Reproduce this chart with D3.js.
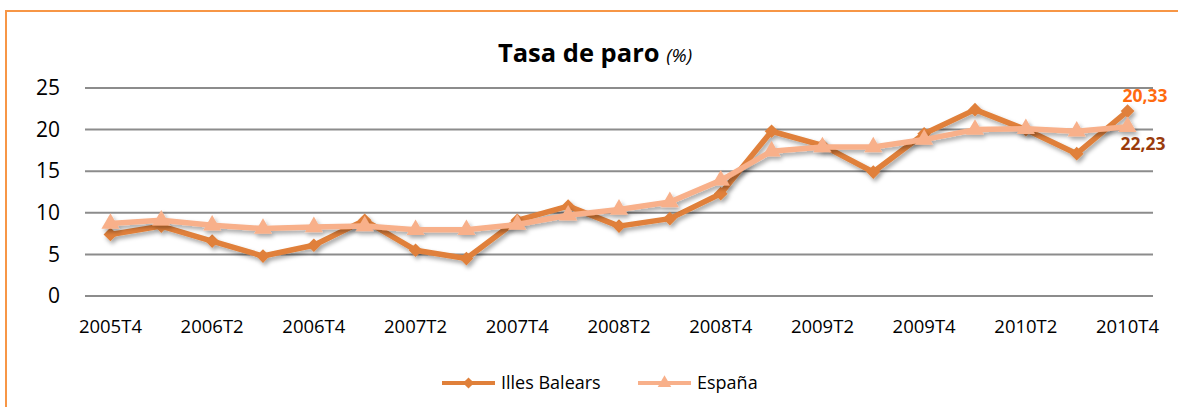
<!DOCTYPE html>
<html>
<head>
<meta charset="utf-8">
<script src="https://cdn.jsdelivr.net/npm/d3@7"></script>
<style>
  body { margin: 0; background: #fff; }
  svg { font-family: "Open Sans", Lato, sans-serif; }
</style>
</head>
<body>
<div id="chart"></div>
<script>
// quarters
const quarters = [
  "2005T4", "2006T1", "2006T2", "2006T3", "2006T4", "2007T1", "2007T2",
  "2007T3", "2007T4", "2008T1", "2008T2", "2008T3", "2008T4", "2009T1",
  "2009T2", "2009T3", "2009T4", "2010T1", "2010T2", "2010T3", "2010T4"
];
// axis labels shown every other quarter
const tickLabels = quarters.filter((d, i) => i % 2 === 0);
const yTicks = [0, 5, 10, 15, 20, 25];

const balears = [7.4, 8.4, 6.6, 4.8, 6.1, 9.1, 5.5, 4.5, 9.1, 10.8, 8.4, 9.3,
  12.3, 19.8, 18.1, 14.9, 19.5, 22.4, 20.0, 17.1, 22.23];
const espana = [8.7, 9.1, 8.5, 8.1, 8.3, 8.4, 7.95, 7.95, 8.6, 9.7, 10.4, 11.3,
  13.9, 17.4, 17.9, 17.9, 18.8, 20.0, 20.1, 19.8, 20.33];

const seriesNames = ["Illes Balears", "España"];

const width = 1178, height = 407;
const margin = { top: 88, right: 25, bottom: 111, left: 85 };

const svg = d3.select("#chart").append("svg")
  .attr("width", width)
  .attr("height", height);

// soft shadow like the spreadsheet
const defs = svg.append("defs");
const f = defs.append("filter").attr("id", "shadow")
  .attr("x", "-20%").attr("y", "-20%").attr("width", "140%").attr("height", "160%");
f.append("feDropShadow").attr("dx", 2).attr("dy", 3)
  .attr("stdDeviation", 2).attr("flood-color", "#000").attr("flood-opacity", 0.35);

// outer frame (left and top only visible)
svg.append("path")
  .attr("d", `M6,${height} L6,11 L${width},11`)
  .attr("fill", "none")
  .attr("stroke", "#F79646")
  .attr("stroke-width", 2);

const x = d3.scaleBand().domain(quarters).range([margin.left, 1153]);
const y = d3.scaleLinear().domain([0, 25]).range([296, 88]);
const cx = d => x(d) + x.bandwidth() / 2;

// grid lines
svg.append("g").selectAll("line")
  .data(yTicks)
  .join("line")
  .attr("x1", margin.left).attr("x2", 1153)
  .attr("y1", d => y(d)).attr("y2", d => y(d))
  .attr("stroke", "#8c8c8c")
  .attr("stroke-width", 2);

// y axis labels
const yAxis = svg.append("g")
  .attr("transform", `translate(${margin.left},0)`)
  .call(d3.axisLeft(y).tickValues(yTicks).tickSize(0).tickPadding(25));
yAxis.select(".domain").remove();
yAxis.selectAll("text")
  .attr("font-family", "'Open Sans', Lato, sans-serif")
  .attr("font-size", 21)
  .attr("fill", "#000");

// x axis labels
const xAxis = svg.append("g")
  .attr("transform", `translate(0,296)`)
  .call(d3.axisBottom(x).tickValues(tickLabels).tickSize(0).tickPadding(24));
xAxis.select(".domain").remove();
xAxis.selectAll("text")
  .attr("font-family", "'Open Sans', Lato, sans-serif")
  .attr("font-size", 18.5)
  .attr("fill", "#000");

// title
const title = svg.append("text")
  .attr("x", 595)
  .attr("y", 62)
  .attr("text-anchor", "middle");
title.append("tspan").attr("font-size", 25.5).attr("font-weight", "bold").text("Tasa de paro ");
title.append("tspan").attr("font-size", 19).attr("font-style", "italic").text("(%)");

const colors = ["#E0803A", "#F8B08A"];
const line = d3.line().x((d, i) => cx(quarters[i])).y(d => y(d));

const diamond = d3.symbol().type(d3.symbolDiamond2).size(120);
const triangle = d3.symbol().type(d3.symbolTriangle).size(140);

// Illes Balears
const g1 = svg.append("g").attr("filter", "url(#shadow)");
g1.append("path").datum(balears)
  .attr("d", line)
  .attr("fill", "none")
  .attr("stroke", colors[0])
  .attr("stroke-width", 5.5)
  .attr("stroke-linejoin", "round");
g1.selectAll("path.pt").data(balears).join("path")
  .attr("class", "pt")
  .attr("d", diamond)
  .attr("transform", (d, i) => `translate(${cx(quarters[i])},${y(d)})`)
  .attr("fill", colors[0]);

// España
const g2 = svg.append("g").attr("filter", "url(#shadow)");
g2.append("path").datum(espana)
  .attr("d", line)
  .attr("fill", "none")
  .attr("stroke", colors[1])
  .attr("stroke-width", 5.5)
  .attr("stroke-linejoin", "round");
g2.selectAll("path.pt").data(espana).join("path")
  .attr("class", "pt")
  .attr("d", triangle)
  .attr("transform", (d, i) => `translate(${cx(quarters[i])},${y(d)})`)
  .attr("fill", colors[1]);

// end value labels (as they appear in the original)
const fmt = v => d3.format(".2f")(v).replace(".", ",");
const last = quarters.length - 1;
svg.append("text")
  .attr("x", cx(quarters[last]) - 5)
  .attr("y", y(balears[last]) - 9)
  .attr("font-size", 17.5).attr("font-weight", "bold")
  .attr("fill", "#FF6B0F")
  .text(fmt(espana[last]));
svg.append("text")
  .attr("x", cx(quarters[last]) - 7)
  .attr("y", y(espana[last]) + 23)
  .attr("font-size", 17.5).attr("font-weight", "bold")
  .attr("fill", "#9A3B0C")
  .text(fmt(balears[last]));

// legend
const legend = svg.append("g").attr("transform", "translate(0,383)");
const legendX = [442, 638];
seriesNames.forEach((name, i) => {
  const lg = legend.append("g").attr("transform", `translate(${legendX[i]},0)`);
  lg.append("line").attr("x1", 0).attr("x2", 53).attr("y1", 0).attr("y2", 0)
    .attr("stroke", colors[i]).attr("stroke-width", 4);
  lg.append("path")
    .attr("d", i === 0 ? d3.symbol().type(d3.symbolDiamond2).size(80)() : d3.symbol().type(d3.symbolTriangle).size(80)())
    .attr("transform", "translate(26.5,0)")
    .attr("fill", colors[i]);
  lg.append("text").attr("x", 59).attr("y", 6)
    .attr("font-size", 18)
    .text(name);
});
</script>
</body>
</html>
